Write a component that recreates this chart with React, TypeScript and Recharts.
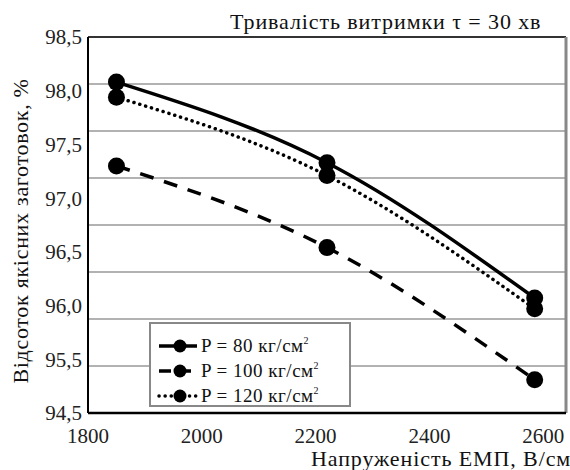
import React from "react";
import {
  LineChart,
  Line,
  XAxis,
  YAxis,
  CartesianGrid,
  ReferenceLine,
} from "recharts";

const voltage = [1850, 2220, 2585];
const p80 = [98.08, 97.33, 96.07];
const p100 = [97.3, 96.54, 95.31];
const p120 = [97.94, 97.21, 95.97];

const xTicks = [1800, 2000, 2200, 2400, 2600];
const yTicks = [95, 95.5, 96, 96.5, 97, 97.5, 98, 98.5];
const yTickLabels = ["94,5", "95,5", "96,0", "96,5", "97,0", "97,5", "98,0", "98,5"];

const seriesNames = ["P = 80 кг/см", "P = 100 кг/см", "P = 120 кг/см"];

const data = voltage.map((v, i) => ({
  v,
  p80: p80[i],
  p100: p100[i],
  p120: p120[i],
}));

const FONT = '"Liberation Serif", "Times New Roman", "Liberation Sans", Arial, sans-serif';

const styles = [
  { key: "p80", dash: undefined as string | undefined, cap: "butt" },
  { key: "p100", dash: "14 11", cap: "butt" },
  { key: "p120", dash: "0.1 6", cap: "round" },
];

const legendSamples = [
  { dash: undefined as string | undefined, cap: "butt" },
  { dash: "12 8", cap: "butt" },
  { dash: "0.1 6", cap: "round" },
];

function LegendBox() {
  return (
    <div
      style={{
        position: "absolute",
        left: 149,
        top: 322,
        width: 202,
        height: 85,
        border: "2px solid #888",
        background: "#fff",
        fontFamily: FONT,
        fontSize: 19,
        letterSpacing: 0.5,
        color: "#111",
        paddingTop: 9,
        boxSizing: "border-box",
      }}
    >
      {seriesNames.map((name, i) => (
        <div
          key={name}
          style={{ display: "flex", alignItems: "center", height: 25, lineHeight: "20px" }}
        >
          <svg width={44} height={20} style={{ marginLeft: 5, flex: "none" }}>
            <line
              x1={3}
              y1={10}
              x2={41}
              y2={10}
              stroke="#000"
              strokeWidth={3.5}
              strokeDasharray={legendSamples[i].dash}
              strokeLinecap={legendSamples[i].cap as any}
            />
            <circle cx={24} cy={10} r={6.5} fill="#000" />
          </svg>
          <span style={{ marginLeft: 1, whiteSpace: "nowrap" }}>
            {name}
            <sup style={{ fontSize: 10, lineHeight: 0, verticalAlign: 8 }}>2</sup>
          </span>
        </div>
      ))}
    </div>
  );
}

export default function App() {
  return (
    <div
      style={{
        position: "absolute",
        left: 0,
        top: 0,
        width: 570,
        height: 470,
        background: "#fff",
        overflow: "hidden",
        fontFamily: FONT,
      }}
    >
      <LineChart
        width={570}
        height={470}
        data={data}
        margin={{ top: 37, right: 4, left: 0, bottom: 27 }}
      >
        <CartesianGrid
          vertical={false}
          stroke="#999"
          strokeWidth={1.5}
          horizontalCoordinatesGenerator={({ offset }: any) =>
            Array.from({ length: 9 }, (_, i) => offset.top + (i * offset.height) / 8)
          }
        />
        <XAxis
          dataKey="v"
          type="number"
          domain={[1800, 2640]}
          ticks={xTicks}
          height={30}
          tickSize={0}
          tickMargin={15}
          tickLine={false}
          axisLine={{ stroke: "#000", strokeWidth: 2.5 }}
          tick={{ fontSize: 21, fill: "#222", fontFamily: FONT }}
        />
        <YAxis
          type="number"
          domain={[95, 98.5]}
          ticks={yTicks}
          width={88}
          tickSize={0}
          tickMargin={6}
          tickLine={false}
          axisLine={{ stroke: "#000", strokeWidth: 2 }}
          tick={{ fontSize: 21, fill: "#222", fontFamily: FONT }}
          tickFormatter={(v: number) => yTickLabels[yTicks.indexOf(v)]}
        />
        <ReferenceLine y={98.5} stroke="#333" strokeWidth={2} />
        <ReferenceLine x={2640} stroke="#888" strokeWidth={3} />
        {styles.map((s) => (
          <Line
            key={s.key}
            type="monotone"
            dataKey={s.key}
            stroke="#000"
            strokeWidth={3.5}
            strokeDasharray={s.dash}
            strokeLinecap={s.cap as any}
            dot={{ r: 8.5, fill: "#000", stroke: "none", strokeDasharray: "" }}
            isAnimationActive={false}
          />
        ))}
      </LineChart>
      <LegendBox />
      <div
        style={{
          position: "absolute",
          left: 230,
          top: 9,
          fontSize: 22,
          letterSpacing: 0.9,
          lineHeight: "25px",
          color: "#111",
          whiteSpace: "nowrap",
        }}
      >
        Тривалість витримки τ = 30 хв
      </div>
      <div
        style={{
          position: "absolute",
          left: 311,
          top: 446,
          fontSize: 22,
          letterSpacing: 0.9,
          lineHeight: "25px",
          color: "#111",
          whiteSpace: "nowrap",
        }}
      >
        Напруженість ЕМП, В/см
      </div>
      <div
        style={{
          position: "absolute",
          left: 20,
          top: 231,
          fontSize: 22,
          letterSpacing: 0.7,
          lineHeight: "25px",
          color: "#111",
          whiteSpace: "nowrap",
          transform: "translate(-50%, -50%) rotate(-90deg)",
        }}
      >
        Відсоток якісних заготовок, %
      </div>
    </div>
  );
}
